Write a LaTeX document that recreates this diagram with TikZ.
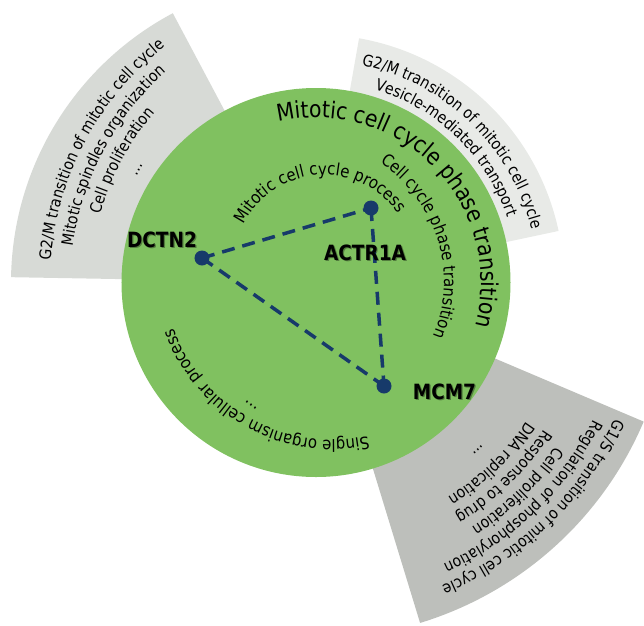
\documentclass[tikz,border=0pt]{standalone}
\usepackage{fontspec}
\setmainfont{DejaVu Sans}[FakeStretch=0.88]
\usetikzlibrary{decorations.text,calc}
\pgfdeclarelayer{back}
\pgfdeclarelayer{mid}
\pgfsetlayers{back,mid,main}
\definecolor{gcircle}{HTML}{80C160}
\definecolor{gsecA}{HTML}{D7DAD6}
\definecolor{gsecB}{HTML}{E8EAE7}
\definecolor{gsecC}{HTML}{BDBFBB}
\definecolor{navy}{HTML}{173A6A}
\newcommand{\fBig}{\fontsize{23.2}{27}\selectfont}
\newcommand{\fMid}{\fontsize{17}{20}\selectfont}
\newcommand{\fSm}{\fontsize{16}{19}\selectfont}
\newcommand{\arcTxt}[7]{%
  \path[decorate,decoration={text along path,text align=center,text={|#6|#7}}]
  ($(#1,#2)+(#4+#5:#3pt)$) arc[start angle=#4+#5,end angle=#4-#5,radius=#3pt];}
\tikzset{
  dotnode/.style={circle,fill=navy,minimum size=15pt,inner sep=0pt},
  link/.style={navy,line width=3.5pt,dash pattern=on 13pt off 8pt},
  genelab/.style={font=\bfseries\fontsize{21}{24}\selectfont,text=black,inner sep=0pt},
  geneshadow/.style={genelab,text=black,opacity=0.35},
}
\begin{document}
\begin{tikzpicture}[x=1pt,y=1pt]
\useasboundingbox (-316,-342.5) rectangle (328,282.5);
\clip (-316,-342.5) rectangle (328,282.5);
\begin{pgfonlayer}{back}
% sectors
\fill[gsecA] (0,0) -- (118:305pt) arc[start angle=118,end angle=179,radius=305pt] -- cycle;
\fill[gsecB] (0,0) -- (12:248pt) arc[start angle=12,end angle=80,radius=248pt] -- cycle;
\fill[gsecC] (0,0) -- (-73:356pt) arc[start angle=-73,end angle=-23,radius=356pt] -- cycle;
% main circle
\fill[gcircle] (0,0) circle[radius=194.5pt];
% circle texts
\arcTxt{0}{0}{165}{44}{85}{\fBig}{Mitotic cell cycle phase transition}
\arcTxt{8}{17.5}{90}{94}{85}{\fMid}{Mitotic cell cycle process}
\arcTxt{-16}{0.5}{144}{17}{70}{\fMid}{Cell cycle phase transition}
\arcTxt{16}{10.5}{168}{-119}{70}{\fMid}{Single organism cellular process}
% sector 1 texts
\arcTxt{36.8}{-1.5}{303}{151.9}{35}{\fSm}{G2/M transition of mitotic cell cycle}
\arcTxt{36.8}{-1.5}{282.5}{151.9}{35}{\fSm}{Mitotic spindles organization}
\arcTxt{36.8}{-1.5}{262}{151.9}{35}{\fSm}{Cell proliferation}
\arcTxt{36.8}{-1.5}{241.5}{151.9}{35}{\fSm}{...}
% sector 2 texts
\arcTxt{0}{0}{222}{46}{50}{\fSm}{G2/M transition of mitotic cell cycle}
\arcTxt{0}{0}{202}{46}{50}{\fSm}{Vesicle-mediated transport}
% sector 3 texts
\arcTxt{0}{0}{328}{-46}{35}{\fSm}{G1/S transition of mitotic cell cycle}
\arcTxt{0}{0}{309}{-46}{35}{\fSm}{Regulation of phosphorylation}
\arcTxt{0}{0}{290}{-46}{35}{\fSm}{Cell proliferation}
\arcTxt{0}{0}{271}{-46}{35}{\fSm}{Response to drug}
\arcTxt{0}{0}{252}{-46}{35}{\fSm}{DNA replication}
\arcTxt{0}{0}{232}{-46}{35}{\fSm}{...}
\end{pgfonlayer}
\node[font=\fMid,rotate=146] (dotsin) at (-65,-122.5) {...};
% network
\node[dotnode] (dctn) at (-114,24.5) {};
\node[dotnode] (actr) at (55,74.5) {};
\node[dotnode] (mcm) at (68,-103.5) {};
\begin{pgfonlayer}{mid}
\draw[link] (dctn.center) -- (actr.center);
\draw[link] (dctn.center) -- (mcm.center);
\draw[link] (actr.center) -- (mcm.center);
\end{pgfonlayer}
% labels
\node[geneshadow] (dctnsh) at (-152.8,41.3) {DCTN2};
\node[genelab] (dctnlab) at (-154,42.5) {DCTN2};
\node[geneshadow] (actrsh) at (50.2,28.8) {ACTR1A};
\node[genelab] (actrlab) at (49,30) {ACTR1A};
\node[geneshadow] (mcmsh) at (129.7,-110.2) {MCM7};
\node[genelab] (mcmlab) at (128.5,-109) {MCM7};
\end{tikzpicture}
\end{document}
